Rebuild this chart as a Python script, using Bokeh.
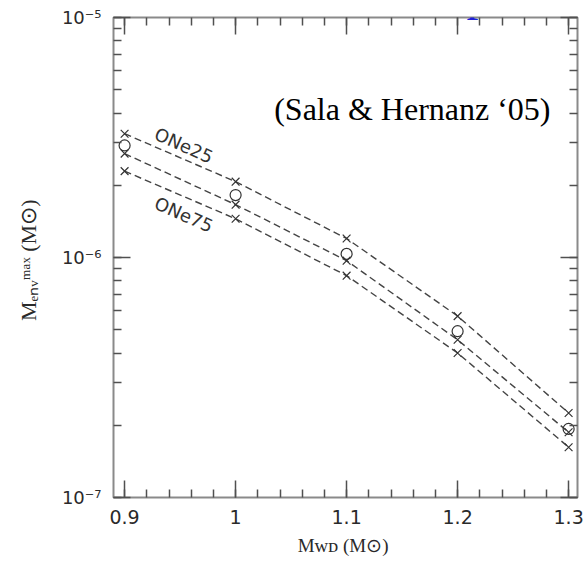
from math import radians, log10

from bokeh.embed import file_html
from bokeh.models import (CustomJSTickFormatter, Label, LinearAxis, LogAxis,
                          LogTicker, Range1d, SingleIntervalTicker)
from bokeh.plotting import figure
from bokeh.resources import INLINE

# White-dwarf mass (solar masses)
m_wd = [0.9, 1.0, 1.1, 1.2, 1.3]

# Maximum envelope mass (solar masses) for the three ONe compositions
menv_one25 = [3.28e-6, 2.07e-6, 1.20e-6, 5.70e-7, 2.25e-7]
menv_one50 = [2.71e-6, 1.66e-6, 9.70e-7, 4.54e-7, 1.87e-7]
menv_one75 = [2.29e-6, 1.45e-6, 8.40e-7, 4.00e-7, 1.62e-7]

# Open-circle values plotted at each mass
menv_circle = [2.93e-6, 1.82e-6, 1.035e-6, 4.93e-7, 1.93e-7]

W, H = 586, 566
BORDER_L, BORDER_R, BORDER_T, BORDER_B = 113, 9, 17, 69
X0, X1 = 0.89, 1.308
Y0, Y1 = 1e-7, 1e-5
INK = "#2a2a2a"
TICK = "#505050"

p = figure(width=W, height=H,
           x_range=Range1d(X0, X1), y_range=Range1d(Y0, Y1),
           y_axis_type="log", output_backend="svg", toolbar_location=None,
           min_border_left=BORDER_L, min_border_right=BORDER_R,
           min_border_top=BORDER_T, min_border_bottom=BORDER_B)
p.grid.visible = False
p.outline_line_color = "#8a8a8a"
p.outline_line_width = 2
p.background_fill_color = "white"
p.border_fill_color = "white"

x_fmt = CustomJSTickFormatter(code="return String(Math.round(tick * 10) / 10);")
y_fmt = CustomJSTickFormatter(code="""
const sup = {'-': '\u207b', '0': '\u2070', '1': '\u00b9', '2': '\u00b2', '3': '\u00b3',
             '4': '\u2074', '5': '\u2075', '6': '\u2076', '7': '\u2077', '8': '\u2078', '9': '\u2079'};
const e = Math.round(Math.log10(tick));
return '10' + String(e).split('').map(c => sup[c]).join('');
""")
blank = CustomJSTickFormatter(code="return '';")

bottom = p.xaxis[0]
left = p.yaxis[0]
bottom.ticker = SingleIntervalTicker(interval=0.1, num_minor_ticks=5)
bottom.formatter = x_fmt
left.ticker = LogTicker(num_minor_ticks=10)
left.formatter = y_fmt

top = LinearAxis(ticker=SingleIntervalTicker(interval=0.1, num_minor_ticks=5),
                 formatter=blank, major_label_standoff=0)
right = LogAxis(ticker=LogTicker(num_minor_ticks=10),
                formatter=blank, major_label_standoff=0)
p.add_layout(top, "above")
p.add_layout(right, "right")

for ax in (bottom, left, top, right):
    ax.axis_line_color = None
    ax.major_tick_in = 17
    ax.major_tick_out = 0
    ax.minor_tick_in = 8
    ax.minor_tick_out = 0
    ax.major_tick_line_color = TICK
    ax.minor_tick_line_color = TICK
    ax.major_tick_line_width = 1.5
    ax.minor_tick_line_width = 1.5
    ax.major_label_text_font = "DejaVu Sans"
    ax.major_label_text_color = INK

bottom.major_label_text_font_size = "19px"
bottom.major_label_standoff = 12
left.major_label_text_font_size = "18px"
left.major_label_standoff = 12

# Axis titles: white-dwarf mass and maximum envelope mass, in solar masses
bottom.axis_label = "M\u1d21\u1d05  (M\u2299)"
bottom.axis_label_standoff = 8
left.axis_label = "M\u2091\u2099\u1d65\u1d50\u1d43\u02e3  (M\u2299)"
left.axis_label_standoff = 18
for ax, size in ((bottom, "19px"), (left, "22px")):
    ax.axis_label_text_font = "Liberation Serif"
    ax.axis_label_text_font_size = size
    ax.axis_label_text_font_style = "normal"
    ax.axis_label_text_color = INK

# Dashed curves through each composition, with their markers
for series in (menv_one25, menv_one50, menv_one75):
    p.line(m_wd, series, line_dash="7 4", line_color="#444444", line_width=1.4)
    p.scatter(m_wd, series, marker="x", size=11, line_color="#333333", line_width=1.2)
p.scatter(m_wd, menv_circle, marker="circle", size=11, fill_color=None,
          line_color="#333333", line_width=1.2)

# Curve labels
for txt, yv in (("ONe25", 2.93e-6), ("ONe75", 1.51e-6)):
    p.add_layout(Label(x=0.9534, y=yv, text=txt, angle=radians(-24),
                       text_align="center", text_baseline="middle",
                       text_font="DejaVu Sans", text_font_size="18px",
                       text_color="#333333"))

# Pixel -> data conversion for texts placed relative to the frame
FW = W - BORDER_L - BORDER_R
FH = H - BORDER_T - BORDER_B


def to_data(px, py):
    xd = X0 + (px - BORDER_L) / FW * (X1 - X0)
    ly = log10(Y0) + (H - BORDER_B - py) / FH * (log10(Y1) - log10(Y0))
    return xd, 10 ** ly


def piece(x, y, text, size, font="Liberation Serif", color=INK, align="left"):
    """Place a text at canvas pixel (x, y), y counted from the top edge."""
    xd, yd = to_data(x, y)
    p.add_layout(Label(x=xd, y=yd, text=text, text_align=align,
                       text_baseline="alphabetic", text_font=font,
                       text_font_size=f"{size}px", text_color=color))


# Citation
piece(550, 108, "(Sala & Hernanz \u201805)", 32, color="black", align="right")

# Slide-title glyph running off the top edge
piece(466, -7, "p", 48, color="#1f1fd6")

open("out.html", "w").write(file_html(p, INLINE))
